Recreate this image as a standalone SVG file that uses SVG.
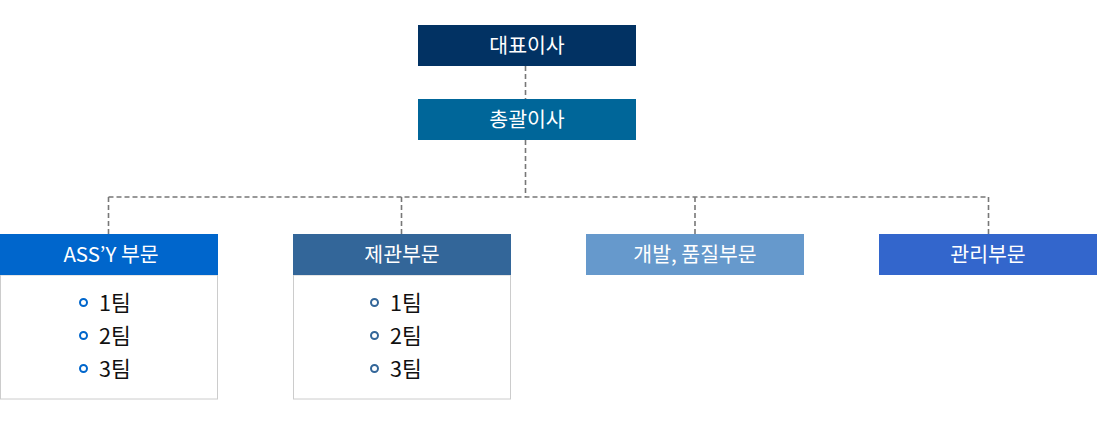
<svg xmlns="http://www.w3.org/2000/svg" width="1097" height="430" viewBox="0 0 1097 430">
<style>
.t{font-family:"Noto Sans CJK KR","Noto Sans",sans-serif;font-size:20.5px;fill:#fff;text-anchor:middle}
.i{font-family:"Noto Sans CJK KR","Noto Sans",sans-serif;font-size:21.5px;fill:#111}
.c{fill:none;stroke:#777;stroke-width:1.6;stroke-dasharray:5 3}
.body{fill:#fff;stroke:#ccc;stroke-width:1}
.b{fill:none;stroke-width:2}
</style>
<rect width="1097" height="430" fill="#fff"/>
<g id="connectors">
<path class="c" d="M525.5 66V99M525.5 140V197M108.5 197H988.5M108.5 197V234M401.5 197V234M695 197V234M988.5 197V234"/>
</g>
<g id="ceo">
<rect x="418" y="25" width="218" height="41" fill="#023263"/>
<text class="t" x="527" y="52.5">대표이사</text>
</g>
<g id="gm">
<rect x="418" y="99" width="218" height="41" fill="#006699"/>
<text class="t" x="527" y="126.5">총괄이사</text>
</g>
<g id="assy">
<rect class="body" x="0.5" y="275" width="217" height="124"/>
<rect x="0" y="234" width="218" height="41" fill="#0066cc"/>
<text class="t" x="111" y="261.5">ASS’Y 부문</text>
<g stroke="#0066cc"><circle class="b" cx="83.5" cy="302.5" r="3.5"/><circle class="b" cx="83.5" cy="335.5" r="3.5"/><circle class="b" cx="83.5" cy="368.5" r="3.5"/></g>
<text class="i" x="99" y="310.5">1팀</text>
<text class="i" x="99" y="343.5">2팀</text>
<text class="i" x="99" y="376.5">3팀</text>
</g>
<g id="jegwan">
<rect class="body" x="293.5" y="275" width="217" height="124"/>
<rect x="293" y="234" width="218" height="41" fill="#336699"/>
<text class="t" x="402" y="261.5">제관부문</text>
<g stroke="#336699"><circle class="b" cx="374.5" cy="302.5" r="3.5"/><circle class="b" cx="374.5" cy="335.5" r="3.5"/><circle class="b" cx="374.5" cy="368.5" r="3.5"/></g>
<text class="i" x="390" y="310.5">1팀</text>
<text class="i" x="390" y="343.5">2팀</text>
<text class="i" x="390" y="376.5">3팀</text>
</g>
<g id="dev">
<rect x="586" y="234" width="218" height="41" fill="#6699cc"/>
<text class="t" x="695" y="261.5">개발, 품질부문</text>
</g>
<g id="admin">
<rect x="879" y="234" width="218" height="41" fill="#3366cc"/>
<text class="t" x="988" y="261.5">관리부문</text>
</g>
</svg>
